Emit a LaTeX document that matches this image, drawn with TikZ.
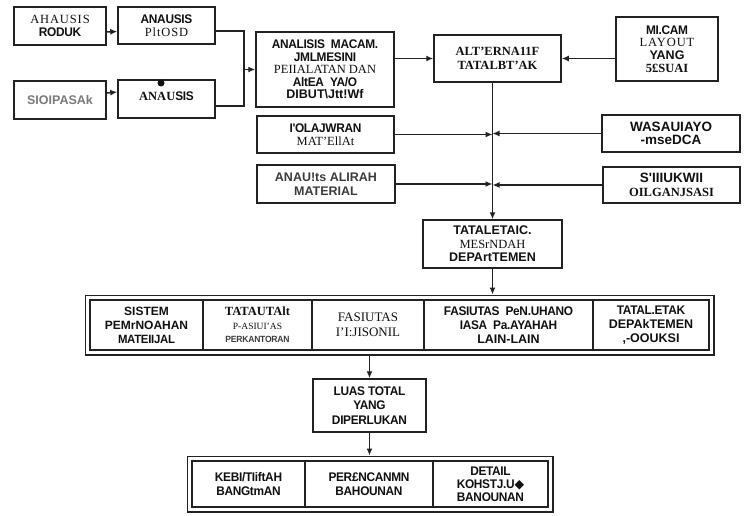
\documentclass[tikz,border=0pt]{standalone}
\usepackage{fontspec}
\setmainfont{Liberation Serif}
\newfontfamily\fsansfam{Liberation Sans}
\newfontfamily\ftightfam[LetterSpace=-2.5,FakeStretch=0.95]{Liberation Sans}
\newfontfamily\fwidefam[LetterSpace=7]{Liberation Serif}
\newfontfamily\fsymfam{DejaVu Sans}
\usetikzlibrary{arrows.meta,fit}

% type faces used inside the boxes
\newcommand\ftb{\ftightfam\bfseries}
\newcommand\fsb{\fsansfam\bfseries}
\newcommand\frm{\rmfamily\mdseries}
\newcommand\frb{\rmfamily\bfseries}
\newcommand\fws{\fwidefam\mdseries}
\newcommand\fbig{\fontsize{13.5}{14.5}\selectfont}

\definecolor{linec}{HTML}{222222}
\definecolor{ink}{HTML}{111111}
\definecolor{faded}{HTML}{7A7A7A}
\definecolor{midink}{HTML}{3C3C3C}

\tikzset{
  box/.style={draw=linec, line width=1.5pt, align=center, inner sep=1pt,
    font=\fontsize{12.5}{13.5}\selectfont, text=ink},
  cell/.style={box},
  frame/.style={draw=linec, line width=1.5pt, inner sep=4pt},
  arr/.style={draw=linec, line width=1.5pt, -{Latex[length=7pt,width=6pt]}},
  ln/.style={draw=linec, line width=1.5pt},
}

\begin{document}
\begin{tikzpicture}[x=1pt,y=-1pt]
\useasboundingbox (0,0) rectangle (744,516);
\fill[white] (0,0) rectangle (744,516);

% ---- left column: analyses feeding the machine study
\node[box, minimum width=92pt, minimum height=38pt] (b1) at (60,26)
  {{\fws AHAUSIS}\\{\ftb RODUK}};
\node[box, minimum width=97pt, minimum height=37pt] (b2) at (166.5,25.5)
  {{\ftb ANAUSIS}\\{\fws PltOSD}};
\node[box, minimum width=92pt, minimum height=38pt] (b3) at (60,100)
  {{\fsb\color{faded}SIOIPASAk}};
\node[box, minimum width=97pt, minimum height=38pt] (b4) at (166.5,99)
  {\raisebox{5pt}{{\frb ANAU}{\ftb SIS}}};
\fill[ink] (161,83) circle (3.5pt);

% ---- middle column
\node[box, minimum width=138pt, minimum height=75pt,
      font=\fontsize{12.5}{12.6}\selectfont] (b5) at (325,69.5)
  {{\ftb ANALISIS\ \ MACAM.}\\{\ftb JMLMESINI}\\{\frm PEIIALATAN DAN}\\%
   {\ftb AltEA\ \ YA/O}\\{\fsb DIBUT\textbackslash Jtt!Wf}};
\node[box, minimum width=137pt, minimum height=37pt] (b6) at (325.5,134.5)
  {{\ftb I'OLAJWRAN}\\{\frm MAT'EllAt}};
\node[box, minimum width=138pt, minimum height=38pt] (b7) at (326,184)
  {{\fsb\color{midink}ANAU!ts ALIRAH}\\{\fsb\color{midink}MATERIAL}};

% ---- layout alternatives and inputs from the right
\node[box, minimum width=127pt, minimum height=47pt,
      font=\fontsize{12.5}{14}\selectfont] (b8) at (497.5,58.5)
  {{\frb ALT'ERNA11F}\\{\frb TATALBT'AK}};
\node[box, minimum width=102pt, minimum height=64pt,
      font=\fontsize{12.5}{12.8}\selectfont] (b9) at (667,49)
  {{\ftb MI.CAM}\\{\fws LAYOUT}\\{\fsb YANG}\\{\frb 5£SUAI}};
\node[box, minimum width=138pt, minimum height=37pt] (b10) at (671,133.5)
  {{\fsb\fbig WASAUIAYO}\\{\fsb\fbig -mseDCA}};
\node[box, minimum width=137pt, minimum height=36pt] (b11) at (671.5,185)
  {{\fsb\fbig S'IIIUKWII}\\{\frb OILGANJSASI}};
\node[box, minimum width=139pt, minimum height=48pt] (b12) at (492.5,244)
  {{\fsb TATALETAIC.}\\{\frm MESrNDAH}\\{\fsb DEPArtTEMEN}};

% ---- facilities row
\node[cell, minimum width=113pt, minimum height=50pt,
      font=\fontsize{12}{14}\selectfont] (r1) at (146.5,325)
  {{\fsb SISTEM}\\{\fsb PEMrNOAHAN}\\{\ftb MATEIIJAL}};
\node[cell, minimum width=109pt, minimum height=50pt] (r2) at (257.5,325)
  {{\frb TATAUTAlt}\\{\frm\fontsize{9.5}{12}\selectfont P-ASIUI'AS}\\%
   {\ftb\fontsize{9}{12}\selectfont\color{midink}PERKANTORAN}};
\node[cell, minimum width=112pt, minimum height=50pt,
      font=\fontsize{13}{15}\selectfont] (r3) at (368,325)
  {{\frm FASIUTAS}\\{\frm I'I:JISONIL}};
\node[cell, minimum width=169pt, minimum height=50pt,
      font=\fontsize{12.5}{14}\selectfont] (r4) at (508.5,325)
  {{\ftb FASIUTAS\ \ PeN.UHANO}\\{\ftb IASA\ \ Pa.AYAHAH}\\{\fsb LAIN-LAIN}};
\node[cell, minimum width=116pt, minimum height=50pt,
      font=\fontsize{12.5}{14}\selectfont] (r5) at (651,325)
  {{\ftb TATAL.ETAK}\\{\fsb DEPAkTEMEN}\\{\fsb ,-OOUKSI}};
\node[frame, fit=(r1)(r5)] (row1) {};

% ---- total area
\node[box, minimum width=113pt, minimum height=53pt,
      font=\fontsize{12.5}{14.5}\selectfont] (luas) at (369.5,405.5)
  {{\ftb LUAS TOTAL}\\{\ftb YANG}\\{\ftb DIPERLUKAN}};

% ---- building row
\node[cell, minimum width=113pt, minimum height=46pt] (s1) at (248.5,484)
  {{\ftb KEBI/TIiftAH}\\{\ftb BANGtmAN}};
\node[cell, minimum width=128pt, minimum height=46pt] (s2) at (369,484)
  {{\ftb PER£NCANMN}\\{\ftb BAHOUNAN}};
\node[cell, minimum width=115pt, minimum height=46pt,
      font=\fontsize{12.5}{13}\selectfont] (s3) at (490.5,484)
  {{\ftb DETAIL}\\{\ftb KOHSTJ.U{\fsymfam\bfseries ◆}}\\{\ftb BANOUNAN}};
\node[frame, fit=(s1)(s3)] (row2) {};

% ---- connectors
\draw[arr] ([yshift=-6pt]b1.east) -- ([yshift=-6pt]b2.west);
\draw[arr] ([yshift=7pt]b3.east) -- ([yshift=7pt]b4.west);
\coordinate (jx) at (244,69.5);
\draw[ln] ([yshift=-5.5pt]b2.east) -| (jx);
\draw[ln] ([yshift=-7pt]b4.east) -| (jx);
\draw[arr] (jx) -- (b5.west);
\draw[arr] (b5.east |- b8.west) -- (b8.west);
\draw[arr] (b9.west |- b8.east) -- (b8.east);
\draw[arr] (b8.south -| b12.north) -- (b12.north);
\draw[arr] (b6.east) -- (b6.east -| b12.north);
\draw[arr] (b10.west) -- (b10.west -| b12.north);
\draw[arr] (b7.east) -- (b7.east -| b12.north);
\draw[arr] (b11.west) -- (b11.west -| b12.north);
\draw[arr] (b12.south) -- (b12.south |- row1.north);
\draw[arr] (luas.north |- row1.south) -- (luas.north);
\draw[arr] (luas.south) -- (luas.south |- row2.north);
\end{tikzpicture}
\end{document}
